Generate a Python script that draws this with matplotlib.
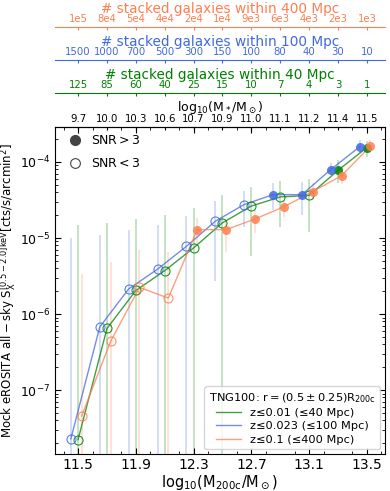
import matplotlib
matplotlib.use('Agg')
import matplotlib.pyplot as plt
from matplotlib.lines import Line2D
from matplotlib.ticker import MultipleLocator
import numpy as np

# halo mass bins (log10 M200c), one offset per sample
x_green = [11.5, 11.7, 11.9, 12.1, 12.3, 12.5, 12.7, 12.9, 13.1, 13.3, 13.5]
x_blue = [11.45, 11.65, 11.85, 12.05, 12.25, 12.45, 12.65, 12.85, 13.05, 13.25, 13.45]
x_orange = [11.525, 11.725, 11.925, 12.125, 12.325, 12.525, 12.725, 12.925, 13.125, 13.325, 13.525]

# log10 of the stacked surface brightness and of the error bar edges
# (-10 = lower edge below the plot)
logS_green = [-7.65, -6.19, -5.69, -5.43, -5.13, -4.80, -4.58, -4.46, -4.44, -4.11, -3.81]
top_green = [-4.83, -4.80, -4.75, -4.70, -4.61, -4.44, -4.33, -4.25, -4.23, -3.97, -3.73]
low_green = [-10, -10, -10, -10, -10, -10, -5.24, -4.85, -4.92, -4.28, -3.93]
snr_green = [0, 0, 0, 0, 0, 0, 0, 0, 0, 1, 1]

logS_blue = [-7.64, -6.17, -5.67, -5.41, -5.11, -4.78, -4.56, -4.43, -4.43, -4.10, -3.80]
top_blue = [-5.00, -4.96, -4.90, -4.83, -4.71, -4.51, -4.38, -4.28, -4.26, -4.01, -3.71]
low_blue = [-10, -10, -10, -10, -10, -5.56, -4.85, -4.63, -4.70, -4.17, -3.88]
snr_blue = [0, 0, 0, 0, 0, 0, 0, 1, 1, 1, 1]

logS_orange = [-7.34, -6.36, -5.65, -5.79, -4.89, -4.89, -4.75, -4.59, -4.39, -4.18, -3.79]
top_orange = [-5.47, -5.31, -5.16, -5.19, -4.74, -4.79, -4.63, -4.50, -4.28, -4.08, -3.71]
low_orange = [-10, -10, -10, -10, -5.07, -5.18, -4.94, -4.72, -4.50, -4.29, -3.88]
snr_orange = [0, 0, 0, 0, 1, 1, 1, 1, 1, 1, 1]

mstar_labels = ['9.7', '10.0', '10.3', '10.6', '10.7', '10.9', '11.0', '11.1', '11.2', '11.4', '11.5']
n40_labels = ['125', '85', '60', '40', '25', '15', '10', '7', '4', '3', '1']
n100_labels = ['1500', '1000', '700', '500', '300', '150', '100', '80', '40', '30', '10']
n400_labels = ['1e5', '8e4', '5e4', '4e4', '2e4', '1e4', '9e3', '6e3', '4e3', '2e3', '1e3']

c_green = 'green'
c_blue = 'royalblue'
c_orange = 'coral'

fig = plt.figure(figsize=(3.9, 4.91), dpi=100)
ax = fig.add_axes([0.141, 0.0754, 0.846, 0.666])

samples = [
    (x_green, logS_green, top_green, low_green, snr_green, c_green, 'z≤0.01 (≤40 Mpc)'),
    (x_blue, logS_blue, top_blue, low_blue, snr_blue, c_blue, 'z≤0.023 (≤100 Mpc)'),
    (x_orange, logS_orange, top_orange, low_orange, snr_orange, c_orange, 'z≤0.1 (≤400 Mpc)'),
]

handles = []
for xs, ls, tp, lw, snr, col, lab in samples:
    xs = np.array(xs)
    s = 10**np.array(ls)
    up = 10**np.array(tp) - s
    dn = s - 10**np.array(lw)
    snr = np.array(snr, dtype=bool)
    ax.errorbar(xs, s, yerr=[dn, up], fmt='none', ecolor=col, elinewidth=1.3, alpha=0.25, zorder=1)
    h, = ax.plot(xs, s, '-', color=col, lw=1, alpha=0.75, zorder=2, label=lab)
    handles.append(h)
    ax.plot(xs[snr], s[snr], 'o', color=col, ms=6.5, mec='none', alpha=0.85, zorder=3)
    ax.plot(xs[~snr], s[~snr], 'o', mfc='none', mec=col, ms=6.5, mew=0.8, alpha=0.85, zorder=3)

ax.set_yscale('log')
ax.set_xlim(11.34, 13.625)
ax.set_ylim(10**-7.84, 10**-3.54)
ax.set_xticks([11.5, 11.9, 12.3, 12.7, 13.1, 13.5])
ax.xaxis.set_minor_locator(MultipleLocator(0.2))
ax.set_xlabel(r'$\rm log_{10}(M_{200c}/M_\odot)$', fontsize=10.5, labelpad=1)
ax.set_ylabel(r'$\rm Mock\ eROSITA\ all-sky\ S_X^{[0.5-2.0]keV}[cts/s/arcmin^2]$', fontsize=8.5, labelpad=1)

leg2 = ax.legend(handles=handles, loc='lower right', fontsize=8.2, handlelength=2.2,
                 title=r'TNG100: $\rm r=(0.5\pm0.25)R_{200c}$', title_fontsize=8.2,
                 borderaxespad=0.4, labelspacing=0.3)
ax.add_artist(leg2)
snr_handles = [Line2D([], [], marker='o', ls='none', color='#444444', ms=7),
               Line2D([], [], marker='o', ls='none', mfc='none', mec='#444444', ms=7, mew=0.8)]
ax.legend(snr_handles, [r'$\rm SNR>3$', r'$\rm SNR<3$'], loc='upper left', frameon=False,
          fontsize=9, handletextpad=0.3, labelspacing=0.8, borderaxespad=0.2)


def top_axis(offset, labels, color, title, tfs, lpad):
    t = ax.twiny()
    t.set_xlim(ax.get_xlim())
    t.set_xticks(x_green)
    t.set_xticklabels(labels)
    t.spines['top'].set_position(('axes', offset))
    t.spines['top'].set_color(color)
    for side in ['left', 'right', 'bottom']:
        t.spines[side].set_visible(False)
    t.tick_params(axis='x', direction='in', length=2.5, color=color, pad=2,
                  labelsize=7.3, labelcolor=color)
    t.set_xlabel(title, color=color, fontsize=tfs, labelpad=lpad)
    return t


top_axis(1.0, mstar_labels, 'black', r'$\rm log_{10}(M_*/M_\odot)$', 9, 2.5)
top_axis(1.104, n40_labels, c_green, '# stacked galaxies within 40 Mpc', 9.8, 1)
top_axis(1.205, n100_labels, c_blue, '# stacked galaxies within 100 Mpc', 9.8, 1)
top_axis(1.306, n400_labels, c_orange, '# stacked galaxies within 400 Mpc', 9.8, 1)

ax.tick_params(which='both', direction='in', top=True, right=True, labelsize=9)
ax.tick_params(which='major', length=4)
ax.tick_params(which='minor', length=2)
ax.tick_params(axis='x', labelsize=10, pad=3)

fig.savefig('out.png', dpi=100)
